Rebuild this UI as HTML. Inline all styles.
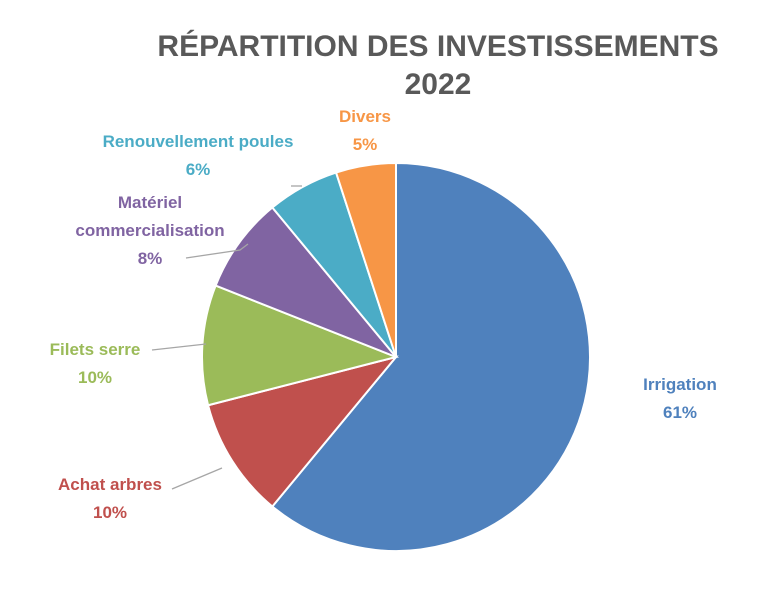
<!DOCTYPE html>
<html><head><meta charset="utf-8"><style>
body{margin:0;background:#fff;}
svg{display:block;font-family:"Liberation Sans",sans-serif;}
</style></head><body>
<svg id="chart" width="773" height="599" viewBox="0 0 773 599">
<rect width="773" height="599" fill="#fff"/>
<text x="438" y="56" text-anchor="middle" font-size="30" font-weight="bold" fill="#595959">RÉPARTITION DES INVESTISSEMENTS</text>
<text x="438" y="94" text-anchor="middle" font-size="30" font-weight="bold" fill="#595959">2022</text>
<g id="slices"></g>
<g id="labels"></g>
</svg>
<script>
const categories=["Irrigation","Achat arbres","Filets serre","Matériel commercialisation","Renouvellement poules","Divers"];
const values=[61,10,10,8,6,5];
const colors=["#4F81BD","#C0504D","#9BBB59","#8064A2","#4BACC6","#F79646"];
const labelPos=[[680,390,"middle"],[110,490,"middle"],[95,355,"middle"],[150,222,"middle"],[198,147,"middle"],[365,122,"middle"]];
const leaders=[null,[[172,489],[222,468]],[[152,350],[206,344]],[[186,258],[240,250],[248,244]],[[291,186],[302,186]],null];
const cx=396,cy=357,r=194;
const ns="http://www.w3.org/2000/svg";
const total=values.reduce((a,b)=>a+b,0);
const gS=document.getElementById('slices'),gL=document.getElementById('labels');
function pt(a){return [cx+r*Math.sin(a),cy-r*Math.cos(a)];}
let acc=0;
values.forEach((v,i)=>{
  const a0=acc/total*2*Math.PI;acc+=v;const a1=acc/total*2*Math.PI;
  const p0=pt(a0),p1=pt(a1);
  const p=document.createElementNS(ns,'path');
  p.setAttribute('d',`M${cx},${cy}L${p0[0]},${p0[1]}A${r},${r} 0 ${a1-a0>Math.PI?1:0} 1 ${p1[0]},${p1[1]}Z`);
  p.setAttribute('fill',colors[i]);p.setAttribute('stroke','#fff');p.setAttribute('stroke-width','2');
  
  
  gS.appendChild(p);
  if(leaders[i]){
    const l=document.createElementNS(ns,'polyline');
    l.setAttribute('points',leaders[i].map(q=>q.join(',')).join(' '));
    l.setAttribute('fill','none');l.setAttribute('stroke','#A6A6A6');l.setAttribute('stroke-width','1.3');
    
    
    gL.appendChild(l);
  }
  const [lx,ly,anc]=labelPos[i];
  const words=categories[i]==="Matériel commercialisation"?["Matériel","commercialisation"]:[categories[i]];
  const lines=words.concat([Math.round(v/total*100)+"%"]);
  const t=document.createElementNS(ns,'text');
  t.setAttribute('text-anchor',anc);t.setAttribute('font-size','17');t.setAttribute('font-weight','bold');t.setAttribute('fill',colors[i]);
  
  
  lines.forEach((s,k)=>{const ts=document.createElementNS(ns,'tspan');ts.setAttribute('x',lx);ts.setAttribute('y',ly+k*28-(lines.length-2)*14);ts.textContent=s;t.appendChild(ts);});
  gL.appendChild(t);
});
</script>
</body></html>
